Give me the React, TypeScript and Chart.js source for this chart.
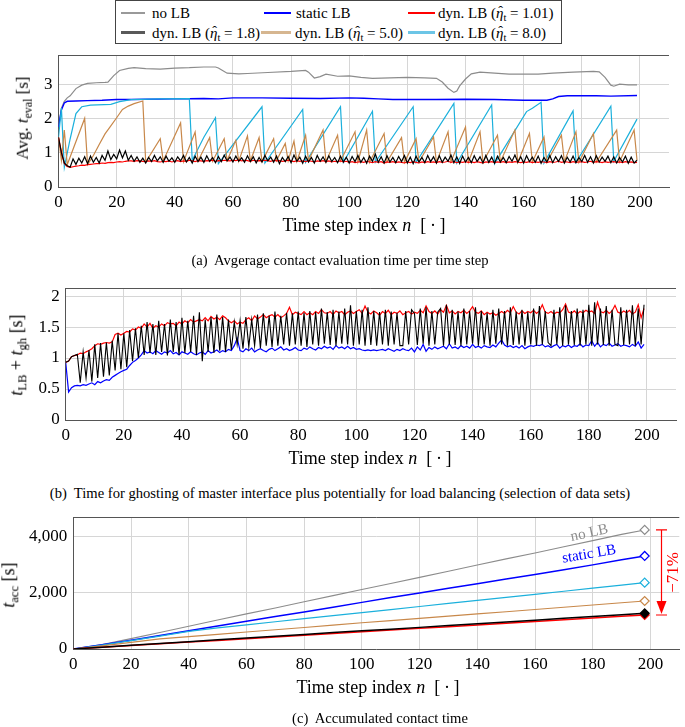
import React, { useEffect, useRef } from "react";
import { Chart, registerables } from "chart.js";
Chart.register(...registerables);

const FONT = "'Liberation Serif', 'Times New Roman', Times, serif";
const GRID = "#d6d6d6";
const AXIS = "#555555";

// ---------- tick labels ----------
const stepTicks = [0, 20, 40, 60, 80, 100, 120, 140, 160, 180, 200];
const evalTicks = [0, 1, 2, 3];
const ghostTicks = [0, 0.5, 1, 1.5, 2];
const accTicks = [0, 2000, 4000];

// ---------- (a) average contact evaluation time [n, t] ----------
const evalNoLB: [number, number][] = [
  [0, 1.75], [1, 2.3], [2, 2.5], [3, 2.6], [4, 2.66], [6, 2.87], [8, 2.97], [10, 3.02], [13, 3.04], [16, 3.05],
  [17, 3.06], [19, 3.25], [21, 3.4], [24, 3.46], [26, 3.48], [30, 3.45], [35, 3.44], [40, 3.47], [45, 3.48], [50, 3.5],
  [54, 3.5], [55, 3.47], [56, 3.42], [58, 3.32], [62, 3.3], [65, 3.31], [72, 3.34], [80, 3.37], [85, 3.4], [86, 3.35],
  [88, 3.18], [90, 3.22], [92, 3.29], [96, 3.23], [100, 3.24], [104, 3.2], [108, 3.17], [114, 3.18], [120, 3.2], [126, 3.18],
  [130, 3.17], [132, 3.06], [134, 2.88], [136, 2.76], [137, 2.8], [138, 2.95], [140, 3.15], [142, 3.3], [145, 3.35], [150, 3.32],
  [155, 3.29], [165, 3.29], [170, 3.32], [177, 3.35], [184, 3.37], [186, 3.36], [188, 3.2], [190, 2.97], [191, 2.94], [193, 3.0],
  [196, 2.98], [199, 2.98],
];
const evalStatic: [number, number][] = [
  [0, 1.75], [1, 2.25], [2, 2.45], [3, 2.5], [6, 2.51], [10, 2.52], [15, 2.53], [20, 2.55], [25, 2.55], [30, 2.56],
  [40, 2.57], [50, 2.58], [55, 2.57], [60, 2.6], [70, 2.6], [80, 2.59], [90, 2.58], [100, 2.6], [105, 2.59], [110, 2.57],
  [115, 2.55], [120, 2.55], [130, 2.55], [140, 2.56], [150, 2.55], [160, 2.53], [168, 2.53], [170, 2.57], [172, 2.64], [175, 2.66],
  [185, 2.66], [190, 2.65], [199, 2.67],
];
const evalDyn101 = [
  1.45, 1.02, 0.68, 0.6, 0.57, 0.59, 0.61, 0.62, 0.64, 0.63,
  0.65, 0.66, 0.67, 0.68, 0.68, 0.7, 0.69, 0.71, 0.72, 0.71,
  0.73, 0.74, 0.73, 0.75, 0.76, 0.76, 0.75, 0.77, 0.76, 0.75,
  0.74, 0.76, 0.75, 0.77, 0.74, 0.73, 0.75, 0.74, 0.76, 0.73,
  0.75, 0.77, 0.74, 0.76, 0.75, 0.78, 0.76, 0.74, 0.77, 0.76,
  0.75, 0.77, 0.76, 0.78, 0.75, 0.77, 0.76, 0.78, 0.77, 0.76,
  0.78, 0.77, 0.79, 0.76, 0.78, 0.77, 0.75, 0.78, 0.76, 0.77,
  0.76, 0.78, 0.77, 0.75, 0.78, 0.76, 0.77, 0.75, 0.76, 0.78,
  0.76, 0.74, 0.77, 0.75, 0.76, 0.74, 0.77, 0.75, 0.73, 0.76,
  0.75, 0.77, 0.74, 0.76, 0.73, 0.75, 0.74, 0.76, 0.73, 0.75,
  0.72, 0.74, 0.71, 0.73, 0.74, 0.72, 0.75, 0.73, 0.71, 0.74,
  0.72, 0.74, 0.7, 0.73, 0.72, 0.74, 0.71, 0.73, 0.72, 0.7,
  0.73, 0.71, 0.74, 0.72, 0.7, 0.73, 0.71, 0.74, 0.72, 0.73,
  0.71, 0.74, 0.72, 0.73, 0.75, 0.72, 0.74, 0.71, 0.73, 0.72,
  0.74, 0.72, 0.73, 0.71, 0.74, 0.72, 0.7, 0.73, 0.72, 0.74,
  0.71, 0.73, 0.72, 0.74, 0.71, 0.73, 0.72, 0.74, 0.73, 0.71,
  0.73, 0.72, 0.74, 0.71, 0.73, 0.72, 0.74, 0.73, 0.71, 0.74,
  0.72, 0.73, 0.75, 0.72, 0.74, 0.73, 0.71, 0.74, 0.72, 0.73,
  0.74, 0.72, 0.73, 0.75, 0.72, 0.74, 0.73, 0.71, 0.74, 0.72,
  0.73, 0.74, 0.72, 0.73, 0.71, 0.74, 0.72, 0.73, 0.71, 0.72,
];
const evalDyn18 = [
  1.45, 1.0, 0.7, 0.62, 0.58, 0.82, 0.66, 0.84, 0.7, 0.88,
  0.68, 0.9, 0.72, 0.86, 0.7, 0.92, 0.78, 1.05, 0.8, 0.95,
  0.82, 1.08, 0.85, 1.05, 0.78, 0.92, 0.75, 0.88, 0.72, 0.84,
  0.7, 0.86, 0.74, 0.92, 0.76, 0.88, 0.72, 0.9, 0.75, 0.85,
  0.72, 0.88, 0.76, 0.92, 0.73, 0.86, 0.7, 0.9, 0.74, 0.87,
  0.72, 0.91, 0.75, 0.86, 0.71, 0.89, 0.74, 0.93, 0.76, 0.87,
  0.73, 0.9, 0.75, 0.85, 0.72, 0.91, 0.74, 0.88, 0.7, 0.86,
  0.73, 0.92, 0.76, 0.87, 0.72, 0.9, 0.68, 0.86, 0.74, 0.89,
  0.71, 0.93, 0.75, 0.87, 0.69, 0.9, 0.73, 0.86, 0.7, 0.92,
  0.75, 0.88, 0.72, 0.91, 0.74, 0.86, 0.71, 0.9, 0.73, 0.87,
  0.7, 0.89, 0.74, 0.92, 0.72, 0.86, 0.69, 0.9, 0.75, 0.96,
  0.72, 0.88, 0.7, 0.91, 0.73, 0.86, 0.71, 0.89, 0.74, 0.92,
  0.7, 0.87, 0.68, 0.9, 0.73, 0.86, 0.71, 0.92, 0.74, 0.88,
  0.7, 0.91, 0.72, 0.87, 0.75, 0.93, 0.71, 0.88, 0.69, 0.9,
  0.73, 0.86, 0.71, 0.91, 0.74, 0.88, 0.7, 0.92, 0.72, 0.87,
  0.69, 0.9, 0.73, 0.86, 0.71, 0.89, 0.75, 0.93, 0.72, 0.88,
  0.7, 0.91, 0.74, 0.87, 0.72, 0.9, 0.69, 0.86, 0.73, 0.92,
  0.71, 0.88, 0.74, 0.91, 0.7, 0.87, 0.73, 0.9, 0.71, 0.86,
  0.74, 0.92, 0.72, 0.88, 0.7, 0.91, 0.73, 0.87, 0.75, 0.9,
  0.71, 0.88, 0.7, 0.86, 0.73, 0.9, 0.69, 0.87, 0.7, 0.78,
];
const evalDyn50: [number, number][] = [
  [0, 1.45], [1, 0.78], [2, 1.66], [3, 0.65], [9, 2.0], [10, 0.65], [12, 0.92], [14, 1.24], [16, 1.55], [18, 1.78],
  [20, 2.02], [22, 2.26], [24, 2.36], [26, 2.43], [29, 2.51], [30, 0.73], [35, 1.41], [36, 0.76], [42, 1.87], [43, 0.74],
  [47, 1.6], [48, 0.76], [52, 1.44], [53, 0.75], [57, 1.41], [58, 0.77], [61, 1.36], [62, 0.75], [65, 1.49], [66, 0.76],
  [69, 1.44], [70, 0.74], [74, 1.41], [75, 0.77], [78, 1.27], [79, 0.76], [81, 1.34], [82, 0.75], [85, 1.51], [86, 0.77],
  [91, 1.66], [92, 0.74], [96, 1.51], [97, 0.76], [102, 1.61], [103, 0.74], [106, 1.66], [107, 0.72], [112, 1.56], [113, 0.73],
  [118, 1.44], [119, 0.72], [123, 1.41], [124, 0.73], [129, 1.46], [130, 0.72], [134, 1.61], [135, 0.74], [140, 1.75], [141, 0.73],
  [145, 1.61], [146, 0.72], [151, 1.51], [152, 0.74], [157, 1.66], [158, 0.72], [162, 1.56], [163, 0.73], [167, 1.46], [168, 0.72],
  [173, 1.51], [174, 0.74], [178, 1.61], [179, 0.72], [184, 1.56], [185, 0.73], [192, 1.66], [193, 0.74], [198, 1.66], [199, 0.78],
];
const evalDyn80: [number, number][] = [
  [0, 1.45], [1, 2.3], [2, 0.57], [4, 1.4], [6, 2.14], [8, 2.34], [11, 2.39], [18, 2.41], [21, 2.49], [25, 2.55],
  [35, 2.57], [45, 2.58], [46, 0.78], [50, 1.45], [54, 2.02], [55, 0.68], [70, 2.34], [71, 0.7], [84, 2.26], [85, 0.72],
  [97, 2.34], [98, 0.72], [108, 2.21], [109, 0.72], [122, 2.34], [123, 0.72], [136, 2.44], [137, 0.7], [149, 2.39], [150, 0.68],
  [161, 2.2], [163, 2.3], [166, 2.47], [167, 0.7], [177, 2.22], [178, 0.72], [190, 2.36], [191, 0.75], [199, 1.98],
];

// ---------- (b) t_LB + t_gh per time step ----------
const ghostDyn101 = [
  0.93, 0.95, 1.02, 1.04, 1.05, 1.08, 1.07, 1.1, 1.12, 1.15,
  1.2, 1.23, 1.22, 1.24, 1.25, 1.24, 1.26, 1.38, 1.4, 1.37,
  1.4, 1.43, 1.42, 1.47, 1.45, 1.5, 1.48, 1.55, 1.5, 1.56,
  1.48, 1.52, 1.5, 1.55, 1.52, 1.57, 1.55, 1.56, 1.52, 1.58,
  1.55, 1.6, 1.57, 1.62, 1.58, 1.6, 1.62, 1.6, 1.65, 1.6,
  1.67, 1.63, 1.66, 1.62, 1.68, 1.65, 1.6, 1.57, 1.6, 1.55,
  1.58, 1.56, 1.62, 1.65, 1.6, 1.68, 1.63, 1.66, 1.7, 1.65,
  1.68, 1.7, 1.66, 1.7, 1.65, 1.68, 1.72, 1.82, 1.7, 1.74,
  1.72, 1.7, 1.75, 1.7, 1.73, 1.7, 1.75, 1.72, 1.78, 1.73,
  1.72, 1.75, 1.7, 1.76, 1.73, 1.75, 1.7, 1.74, 1.76, 1.72,
  1.75, 1.78, 1.72, 1.84, 1.74, 1.71, 1.76, 1.73, 1.69, 1.75,
  1.72, 1.77, 1.7, 1.74, 1.72, 1.76, 1.7, 1.73, 1.75, 1.71,
  1.74, 1.72, 1.77, 1.73, 1.84, 1.75, 1.72, 1.76, 1.71, 1.78,
  1.74, 1.85, 1.73, 1.76, 1.71, 1.75, 1.73, 1.77, 1.72, 1.76,
  1.83, 1.74, 1.72, 1.76, 1.7, 1.74, 1.71, 1.73, 1.69, 1.72,
  1.75, 1.72, 1.77, 1.73, 1.83, 1.74, 1.71, 1.76, 1.72, 1.75,
  1.73, 1.77, 1.72, 1.76, 1.86, 1.74, 1.72, 1.75, 1.71, 1.74,
  1.73, 1.78, 1.87, 1.74, 1.72, 1.76, 1.71, 1.75, 1.73, 1.77,
  1.74, 1.76, 1.72, 1.9, 1.75, 1.73, 1.77, 1.72, 1.76, 1.85,
  1.74, 1.72, 1.76, 1.73, 1.77, 1.71, 1.74, 1.86, 1.65, 1.8,
];
const ghostStatic = [
  0.93, 0.45, 0.52, 0.55, 0.56, 0.55, 0.57, 0.56, 0.58, 0.6,
  0.57, 0.62, 0.6, 0.63, 0.65, 0.64, 0.69, 0.72, 0.75, 0.78,
  0.8, 0.82, 0.88, 0.93, 0.96, 1.0, 1.05, 1.12, 1.08, 1.1,
  1.07, 1.12, 1.09, 1.06, 1.1, 1.08, 1.12, 1.07, 1.09, 1.05,
  1.1, 1.08, 1.06, 1.1, 1.07, 1.05, 1.08, 1.1, 1.06, 1.12,
  1.08, 1.1, 1.13, 1.09, 1.12, 1.1, 1.14, 1.12, 1.2, 1.32,
  1.12, 1.1, 1.15, 1.12, 1.16, 1.1, 1.13, 1.15, 1.12, 1.1,
  1.14, 1.16, 1.12, 1.15, 1.18, 1.13, 1.15, 1.12, 1.14, 1.17,
  1.13, 1.12, 1.16, 1.14, 1.18, 1.15, 1.13, 1.17, 1.15, 1.19,
  1.16, 1.18, 1.14, 1.2, 1.16, 1.18, 1.15, 1.19, 1.15, 1.17,
  1.14, 1.15, 1.13, 1.12, 1.13, 1.12, 1.13, 1.12, 1.13, 1.14,
  1.12, 1.15, 1.13, 1.11, 1.14, 1.12, 1.15, 1.13, 1.12, 1.16,
  1.1, 1.18, 1.13, 1.22, 1.11, 1.17, 1.14, 1.18, 1.15, 1.17,
  1.19, 1.15, 1.23, 1.16, 1.18, 1.15, 1.2, 1.17, 1.19, 1.16,
  1.22, 1.17, 1.19, 1.16, 1.2, 1.18, 1.17, 1.21, 1.18, 1.24,
  1.29, 1.21, 1.18, 1.2, 1.17, 1.19, 1.16, 1.2, 1.15, 1.18,
  1.2, 1.19, 1.21, 1.2, 1.22, 1.18, 1.2, 1.17, 1.2, 1.22,
  1.16, 1.2, 1.18, 1.21, 1.17, 1.2, 1.19, 1.23, 1.18, 1.21,
  1.2, 1.28, 1.19, 1.25, 1.18, 1.22, 1.2, 1.24, 1.19, 1.21,
  1.23, 1.19, 1.21, 1.2, 1.18, 1.22, 1.19, 1.26, 1.16, 1.22,
];
const ghostDyn18 = [
  0.93, 0.95, 1.02, 1.04, 1.06, 0.6, 1.1, 0.68, 1.13, 0.62,
  1.22, 0.68, 1.24, 0.7, 1.25, 0.72, 1.28, 0.8, 1.4, 0.82,
  1.4, 0.85, 1.45, 0.95, 1.48, 1.0, 1.52, 1.05, 1.58, 1.08,
  1.55, 1.05, 1.6, 1.1, 1.55, 1.04, 1.62, 1.1, 1.58, 1.05,
  1.65, 1.08, 1.6, 1.1, 1.68, 1.05, 1.74, 0.95, 1.62, 1.1,
  1.66, 1.08, 1.7, 1.12, 1.66, 1.1, 1.62, 1.13, 1.58, 1.22,
  1.6, 1.15, 1.66, 1.18, 1.62, 1.2, 1.7, 1.16, 1.72, 1.2,
  1.68, 1.18, 1.75, 1.2, 1.68, 1.22, 1.73, 1.2, 1.72, 1.22,
  1.75, 1.2, 1.73, 1.18, 1.76, 1.22, 1.74, 1.2, 1.8, 1.23,
  1.74, 1.21, 1.78, 1.2, 1.75, 1.23, 1.8, 1.22, 1.85, 1.2,
  1.76, 1.22, 1.78, 1.2, 1.82, 1.21, 1.76, 1.2, 1.74, 1.22,
  1.78, 1.2, 1.75, 1.22, 1.73, 1.2, 1.2, 1.76, 1.22, 1.78,
  1.72, 1.21, 1.8, 1.23, 1.82, 1.2, 1.76, 1.22, 1.74, 1.8,
  1.2, 1.86, 1.22, 1.78, 1.21, 1.75, 1.2, 1.8, 1.22, 1.76,
  1.23, 1.82, 1.2, 1.76, 1.22, 1.73, 1.2, 1.78, 1.23, 1.8,
  1.22, 1.76, 1.2, 1.82, 1.21, 1.75, 1.22, 1.78, 1.2, 1.74,
  1.22, 1.8, 1.2, 1.84, 1.22, 1.76, 1.25, 1.2, 1.78, 1.22,
  1.82, 1.2, 1.85, 1.22, 1.76, 1.21, 1.8, 1.2, 1.78, 1.22,
  1.86, 1.2, 1.9, 1.22, 1.8, 1.21, 1.84, 1.2, 1.78, 1.22,
  1.2, 1.82, 1.21, 1.78, 1.22, 1.85, 1.2, 1.8, 1.22, 1.86,
];

// ---------- (c) accumulated contact time ----------
const accN = [0, 10, 20, 30, 40, 50, 60, 70, 80, 90, 100, 110, 120, 130, 140, 150, 160, 170, 180, 190, 198];
const accNoLB = [0, 160, 370, 590, 810, 1030, 1250, 1460, 1680, 1900, 2120, 2330, 2550, 2770, 2990, 3210, 3420, 3640, 3860, 4080, 4239];
const accStatic = [0, 150, 315, 480, 650, 815, 985, 1155, 1320, 1490, 1660, 1830, 1995, 2160, 2325, 2490, 2655, 2820, 2995, 3175, 3313];
const accDyn80 = [0, 140, 300, 460, 630, 755, 860, 970, 1080, 1190, 1296, 1405, 1514, 1622, 1731, 1840, 1948, 2057, 2166, 2275, 2362];
const accDyn50 = [0, 110, 237, 360, 440, 522, 604, 686, 768, 850, 932, 1011, 1091, 1170, 1250, 1329, 1408, 1488, 1567, 1646, 1710];
const accDyn18 = [0, 65, 130, 195, 260, 325, 390, 455, 520, 585, 650, 706, 770, 835, 899, 963, 1027, 1091, 1156, 1220, 1271];
const accDyn101 = [0, 61, 122, 184, 245, 306, 367, 428, 490, 551, 612, 673, 735, 796, 857, 918, 979, 1041, 1102, 1163, 1211];

const C_GRAY = "#8c8c8c";
const C_BLUE = "#0000ff";
const C_RED = "#ff0000";
const C_BLACK = "#000000";
const C_BROWN = "#c8884a";
const C_CYAN = "#1bb0dc";

const pairs = (p: [number, number][]) => p.map(([x, y]) => ({ x, y }));
const steps = (v: number[]) => v.map((y, x) => ({ x, y }));
const zipN = (n: number[], v: number[]) => v.map((y, i) => ({ x: n[i], y }));

function line(data: any[], color: string, width: number) {
  return { data, borderColor: color, backgroundColor: color, borderWidth: width, pointRadius: 0, tension: 0, fill: false };
}

function xAxis() {
  return {
    type: "linear",
    min: 0,
    max: 210,
    afterBuildTicks: (s: any) => { s.ticks = stepTicks.map((v) => ({ value: v })); },
    afterFit: (s: any) => { s.height = 30; s.paddingLeft = 0; s.paddingRight = 0; },
    ticks: { font: { family: FONT, size: 17 }, color: "#000", padding: 5, maxRotation: 0, autoSkip: false, callback: (v: any) => String(v) },
    grid: { color: GRID, drawTicks: false },
    border: { color: AXIS },
  };
}

function yAxis(max: number, ticks: number[], width: number, fmt: (v: number) => string) {
  return {
    type: "linear",
    min: 0,
    max,
    afterBuildTicks: (s: any) => { s.ticks = ticks.map((v) => ({ value: v })); },
    afterFit: (s: any) => { s.width = width; s.paddingTop = 0; s.paddingBottom = 0; },
    ticks: { font: { family: FONT, size: 17 }, color: "#000", padding: 6, autoSkip: false, callback: (v: any) => fmt(Number(v)) },
    grid: { color: GRID, drawTicks: false },
    border: { color: AXIS },
  };
}

const topBorder = {
  id: "topBorder",
  afterDraw(chart: any) {
    const { ctx, chartArea: a } = chart;
    ctx.save();
    ctx.strokeStyle = AXIS;
    ctx.lineWidth = 1;
    ctx.beginPath();
    ctx.moveTo(a.left, Math.round(a.top) + 0.5);
    ctx.lineTo(a.right, Math.round(a.top) + 0.5);
    ctx.stroke();
    ctx.restore();
  },
};

function baseOptions(yMax: number, ticks: number[], yWidth: number, padTop: number, padRight: number, fmt: (v: number) => string) {
  return {
    animation: false,
    responsive: false,
    devicePixelRatio: 1,
    events: [],
    layout: { padding: { top: padTop, right: padRight, left: 0, bottom: 0 } },
    plugins: { legend: { display: false }, tooltip: { enabled: false } },
    scales: { x: xAxis(), y: yAxis(yMax, ticks, yWidth, fmt) },
  };
}

// label positions along lines in (c)
const noLbLabelN = 179.4;
const staticLbLabelN = 179.4;
const reductionN = 203.5;

function drawLineLabel(ctx: any, xs: any, ys: any, ns: number[], vs: number[], n: number, off: number, text: string, color: string) {
  let i = ns.findIndex((v) => v >= n);
  if (i <= 0) i = 1;
  const x0 = xs.getPixelForValue(ns[i - 1]), y0 = ys.getPixelForValue(vs[i - 1]);
  const x1 = xs.getPixelForValue(ns[i]), y1 = ys.getPixelForValue(vs[i]);
  const t = (n - ns[i - 1]) / (ns[i] - ns[i - 1]);
  const px = x0 + (x1 - x0) * t, py = y0 + (y1 - y0) * t;
  const ang = Math.atan2(y1 - y0, x1 - x0);
  ctx.save();
  ctx.translate(px + Math.sin(ang) * off, py - Math.cos(ang) * off);
  ctx.rotate(ang);
  ctx.font = `15px ${FONT}`;
  ctx.fillStyle = color;
  ctx.textAlign = "center";
  ctx.textBaseline = "middle";
  ctx.fillText(text, 0, 0);
  ctx.restore();
}

const accAnnotations = {
  id: "accAnnotations",
  afterDatasetsDraw(chart: any) {
    const { ctx } = chart;
    const xs = chart.scales.x, ys = chart.scales.y;
    const topV = accNoLB[accNoLB.length - 1];
    const botV = accDyn101[accDyn101.length - 1];
    const x = Math.round(xs.getPixelForValue(reductionN)) + 0.5;
    const yT = ys.getPixelForValue(topV), yB = ys.getPixelForValue(botV);
    ctx.save();
    ctx.strokeStyle = C_RED;
    ctx.fillStyle = C_RED;
    ctx.lineWidth = 1.2;
    ctx.beginPath();
    ctx.moveTo(x - 5.5, yT); ctx.lineTo(x + 5.5, yT);
    ctx.moveTo(x - 5.5, yB); ctx.lineTo(x + 5.5, yB);
    ctx.moveTo(x, yT); ctx.lineTo(x, yB - 12);
    ctx.stroke();
    ctx.beginPath();
    ctx.moveTo(x - 5, yB - 14); ctx.lineTo(x + 5, yB - 14); ctx.lineTo(x, yB - 1); ctx.closePath();
    ctx.fill();
    const pct = Math.round((1 - botV / topV) * 100);
    ctx.translate(x + 12, (yT + yB) / 2);
    ctx.rotate(-Math.PI / 2);
    ctx.font = `17px ${FONT}`;
    ctx.textAlign = "center";
    ctx.textBaseline = "middle";
    ctx.fillText(`\u2212${pct}%`, 0, 0);
    ctx.restore();
    drawLineLabel(ctx, xs, ys, accN, accNoLB, noLbLabelN, 8, "no LB", C_GRAY);
    drawLineLabel(ctx, xs, ys, accN, accStatic, staticLbLabelN, 11, "static LB", C_BLUE);
  },
};

function accLine(v: number[], color: string, width: number, open: boolean) {
  const data = zipN(accN, v);
  return {
    ...line(data, color, width),
    pointStyle: "rectRot",
    pointRadius: data.map((_, i) => (i === data.length - 1 ? 4.5 : 0)),
    pointBorderColor: color,
    pointBackgroundColor: open ? "#ffffff" : color,
    pointBorderWidth: 1.2,
  };
}

const Sub = ({ children }: { children: React.ReactNode }) => (
  <span style={{ fontSize: "0.7em", verticalAlign: "-0.3em" }}>{children}</span>
);
const Eta = () => (
  <>
    <span style={{ position: "relative", display: "inline-block" }}>
      <i>{"\u03B7"}</i>
      <span style={{ position: "absolute", left: "0.16em", top: "0.02em", fontSize: "0.95em", lineHeight: 1 }}>{"\u02C6"}</span>
    </span>
    <Sub>t</Sub>
  </>
);

export default function App() {
  const refA = useRef<HTMLCanvasElement>(null);
  const refB = useRef<HTMLCanvasElement>(null);
  const refC = useRef<HTMLCanvasElement>(null);

  useEffect(() => {
    const charts: Chart[] = [];
    charts.push(
      new Chart(refA.current as HTMLCanvasElement, {
        type: "line",
        data: {
          datasets: [
            line(steps(evalDyn18), C_BLACK, 1.2),
            line(steps(evalDyn101), C_RED, 1.2),
            line(pairs(evalDyn50), C_BROWN, 1.2),
            line(pairs(evalDyn80), C_CYAN, 1.2),
            line(pairs(evalStatic), C_BLUE, 1.4),
            line(pairs(evalNoLB), C_GRAY, 1.2),
          ] as any,
        },
        options: baseOptions(3.85, evalTicks, 58.5, 5, 16, (v) => String(v)) as any,
        plugins: [topBorder],
      })
    );
    charts.push(
      new Chart(refB.current as HTMLCanvasElement, {
        type: "line",
        data: {
          datasets: [
            line(steps(ghostDyn18), C_BLACK, 1.1),
            line(steps(ghostDyn101), C_RED, 1.2),
            line(steps(ghostStatic), C_BLUE, 1.2),
          ] as any,
        },
        options: baseOptions(2.13, ghostTicks, 65.7, 8, 9, (v) => String(v)) as any,
        plugins: [topBorder],
      })
    );
    charts.push(
      new Chart(refC.current as HTMLCanvasElement, {
        type: "line",
        data: {
          datasets: [
            accLine(accDyn18, C_BLACK, 1.5, false),
            accLine(accDyn101, C_RED, 1.5, false),
            accLine(accDyn50, C_BROWN, 1.1, true),
            accLine(accDyn80, C_CYAN, 1.2, true),
            accLine(accStatic, C_BLUE, 1.5, true),
            accLine(accNoLB, C_GRAY, 1.1, true),
          ] as any,
        },
        options: baseOptions(4700, accTicks, 73.3, 7, 1, (v) => v.toLocaleString("en-US")) as any,
        plugins: [topBorder, accAnnotations],
      })
    );
    return () => charts.forEach((c) => c.destroy());
  }, []);

  const abs = (left: number, top: number, extra: React.CSSProperties = {}): React.CSSProperties => ({
    position: "absolute",
    left,
    top,
    whiteSpace: "nowrap",
    ...extra,
  });
  const centered = (cx: number, cy: number, size: number, rotate = false): React.CSSProperties => ({
    position: "absolute",
    left: cx,
    top: cy,
    fontSize: size,
    lineHeight: 1,
    whiteSpace: "nowrap",
    transform: `translate(-50%, -50%)${rotate ? " rotate(-90deg)" : ""}`,
  });
  const xTitle = (
    <>
      Time step index <i>n</i>
      {"\u2002[\u2009\u00B7\u2009]"}
    </>
  );
  const swatch = (left: number, width: number, cy: number, color: string, h: number) => (
    <div style={{ position: "absolute", left, top: cy - h / 2, width, height: h, background: color }} />
  );
  const legText = (left: number, cy: number, content: React.ReactNode) => (
    <div style={abs(left, cy - 9, { fontSize: 15, lineHeight: "18px" })}>{content}</div>
  );

  return (
    <div
      style={{
        position: "absolute",
        left: 0,
        top: 0,
        width: 685,
        height: 727,
        background: "#fff",
        fontFamily: FONT,
        color: "#000",
        overflow: "hidden",
      }}
    >
      {/* legend */}
      <div style={{ position: "absolute", left: 115, top: 0, width: 447, height: 44, border: "1px solid #444", boxSizing: "border-box" }} />
      {swatch(121, 24, 13, "#999999", 1.3)}
      {legText(152, 13, <>no LB</>)}
      {swatch(264, 27, 13, C_BLUE, 1.3)}
      {legText(296, 13, <>static LB</>)}
      {swatch(408, 27, 13, C_RED, 1.3)}
      {legText(438, 13, <>dyn. LB (<Eta /> = 1.01)</>)}
      {swatch(121, 24, 32.5, "#595959", 3)}
      {legText(152, 32.5, <>dyn. LB (<Eta /> = 1.8)</>)}
      {swatch(261, 30, 32.5, "#d6b690", 3)}
      {legText(295, 32.5, <>dyn. LB (<Eta /> = 5.0)</>)}
      {swatch(408, 27, 32.5, "#6cc5e6", 3)}
      {legText(438, 32.5, <>dyn. LB (<Eta /> = 8.0)</>)}

      {/* chart (a) */}
      <canvas ref={refA} width={685} height={167} style={{ position: "absolute", left: 0, top: 50, width: 685, height: 167 }} />
      <div style={centered(24, 118, 17, true)}>
        Avg. <i>t</i>
        <Sub>eval</Sub> [s]
      </div>
      <div style={centered(364, 225, 18)}>{xTitle}</div>
      <div style={centered(340, 260, 14.6)}>(a)&nbsp; Avgerage contact evaluation time per time step</div>

      {/* chart (b) */}
      <canvas ref={refB} width={685} height={170} style={{ position: "absolute", left: 0, top: 280, width: 685, height: 170 }} />
      <div style={centered(18, 355, 18, true)}>
        <i>t</i>
        <Sub>LB</Sub> + <i>t</i>
        <Sub>gh</Sub> [s]
      </div>
      <div style={centered(370, 458, 18)}>{xTitle}</div>
      <div style={centered(340, 493, 14.6)}>
        (b)&nbsp; Time for ghosting of master interface plus potentially for load balancing (selection of data sets)
      </div>

      {/* chart (c) */}
      <canvas ref={refC} width={685} height={169} style={{ position: "absolute", left: 0, top: 510, width: 685, height: 169 }} />
      <div style={centered(10, 585, 18, true)}>
        <i>t</i>
        <Sub>acc</Sub> [s]
      </div>
      <div style={centered(378, 687, 18)}>{xTitle}</div>
      <div style={centered(380, 718, 14.6)}>(c)&nbsp; Accumulated contact time</div>
    </div>
  );
}
